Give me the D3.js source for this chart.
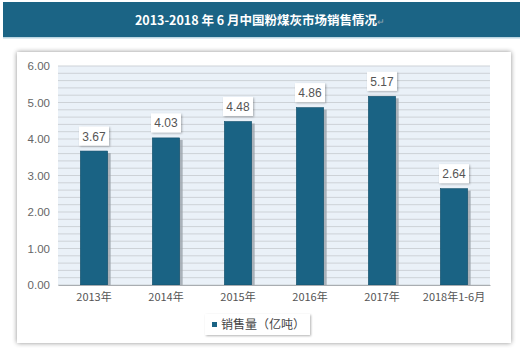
<!DOCTYPE html>
<html>
<head>
<meta charset="utf-8">
<script src="https://cdn.jsdelivr.net/npm/d3@7"></script>
<style>
body{margin:0;background:#fff;}
text{font-family:"Liberation Sans","Noto Sans CJK SC",sans-serif;}
</style>
</head>
<body>
<div id="chart"></div>
<script>
var categories=["2013年","2014年","2015年","2016年","2017年","2018年1-6月"];
var sales=[3.67,4.03,4.48,4.86,5.17,2.64];
var yTicks=[0,1,2,3,4,5,6];
var titleText="2013-2018 年 6 月中国粉煤灰市场销售情况";
var legendText="销售量（亿吨）";

var W=520,H=351;
var margin={top:66,right:30,bottom:66,left:58},
    width=490-margin.left,
    height=285-margin.top;

var svg=d3.select("#chart").append("svg")
    .attr("width",W).attr("height",H);

var defs=svg.append("defs");
var f=defs.append("filter").attr("id","sh").attr("x","-10%").attr("y","-10%").attr("width","120%").attr("height","120%");
f.append("feGaussianBlur").attr("in","SourceAlpha").attr("stdDeviation",2.5);
f.append("feOffset").attr("dx",0).attr("dy",0).attr("result","b");
f.append("feComponentTransfer").append("feFuncA").attr("type","linear").attr("slope",0.45);
var fm=f.append("feMerge");fm.append("feMergeNode");fm.append("feMergeNode").attr("in","SourceGraphic");

var f2=defs.append("filter").attr("id","sh2").attr("x","-30%").attr("y","-30%").attr("width","160%").attr("height","160%");
f2.append("feGaussianBlur").attr("in","SourceAlpha").attr("stdDeviation",1.2);
f2.append("feOffset").attr("dx",0.5).attr("dy",0.5);
f2.append("feComponentTransfer").append("feFuncA").attr("type","linear").attr("slope",0.3);
var fm2=f2.append("feMerge");fm2.append("feMergeNode");fm2.append("feMergeNode").attr("in","SourceGraphic");

// title bar
svg.append("rect").attr("x",3).attr("y",2).attr("width",517).attr("height",35).attr("fill","#1b6485");
svg.append("rect").attr("x",3).attr("y",37).attr("width",517).attr("height",1.5).attr("fill","#bcd6e2");
var tt=svg.append("text").attr("x",260).attr("y",24.5).attr("text-anchor","middle")
    .attr("fill","#fff").style("font-size","12.5px").style("font-weight","bold")
    .style("font-family","'Noto Sans CJK SC',sans-serif");
tt.append("tspan").text(titleText);
tt.append("tspan").attr("fill","#9aaab5").style("font-size","9px").style("font-weight","normal").text("↵");

// frame
svg.append("rect").attr("x",17).attr("y",52).attr("width",494).attr("height",291)
    .attr("fill","#fff").attr("filter","url(#sh)");

var g=svg.append("g").attr("transform","translate("+margin.left+","+margin.top+")");

var x=d3.scaleBand().domain(categories).range([0,width]).paddingInner(0.62).paddingOuter(0.31);
var y=d3.scaleLinear().domain([0,6]).range([height,0]);

g.append("rect").attr("width",width).attr("height",height).attr("fill","#eaf1f8");

// minor + major grid
var grid=d3.range(0,6.01,0.2);
g.selectAll("line.grid").data(grid).enter().append("line")
    .attr("class","grid")
    .attr("x1",0).attr("x2",width)
    .attr("y1",d=>y(d)).attr("y2",d=>y(d))
    .attr("stroke","#cdd2d7").attr("stroke-width",1);

// bars
g.selectAll("rect.shadow").data(sales).enter().append("rect")
    .attr("x",(d,i)=>x(categories[i])+3)
    .attr("y",d=>y(d)+2)
    .attr("width",x.bandwidth())
    .attr("height",d=>height-y(d)-2)
    .attr("fill","#9aa3aa").attr("opacity",0.8);
g.selectAll("rect.bar").data(sales).enter().append("rect")
    .attr("class","bar")
    .attr("x",(d,i)=>x(categories[i]))
    .attr("y",d=>y(d))
    .attr("width",x.bandwidth())
    .attr("height",d=>height-y(d))
    .attr("fill","#1a6384").attr("stroke","#14506b").attr("stroke-width",0.6);

// axes
var yAxis=g.append("g").call(d3.axisLeft(y).tickValues(yTicks).tickFormat(d3.format(".2f")).tickSize(0).tickPadding(8));
yAxis.select(".domain").remove();
yAxis.selectAll("text").attr("fill","#666").style("font-size","11.5px");

var xAxis=g.append("g").attr("transform","translate(0,"+height+")")
    .call(d3.axisBottom(x).tickSize(0).tickPadding(8));
xAxis.select(".domain").attr("stroke","#a9adb1");
xAxis.selectAll("text").attr("fill","#555").style("font-size","11px")
    .style("font-family","'Noto Sans CJK SC',sans-serif");

// data labels
var lab=g.selectAll("g.lab").data(sales).enter().append("g")
    .attr("transform",(d,i)=>"translate("+(x(categories[i])+x.bandwidth()/2)+","+(y(d)-15)+")");
lab.append("rect").attr("x",-15).attr("y",-9.5).attr("width",30).attr("height",19)
    .attr("fill","#fff").attr("filter","url(#sh2)");
lab.append("text").attr("text-anchor","middle").attr("y",4.5)
    .attr("fill","#555").style("font-size","12px").text(d=>d.toFixed(2));

// legend
var lg=svg.append("g").attr("transform","translate(205,314)");
lg.append("rect").attr("width",105).attr("height",21).attr("fill","#fff").attr("filter","url(#sh2)");
lg.append("rect").attr("x",7).attr("y",8).attr("width",5).attr("height",5).attr("fill","#1a6384");
lg.append("text").attr("x",16).attr("y",15).attr("fill","#444").style("font-size","12px")
    .style("font-family","'Noto Sans CJK SC',sans-serif").text(legendText);
</script>
</body>
</html>
